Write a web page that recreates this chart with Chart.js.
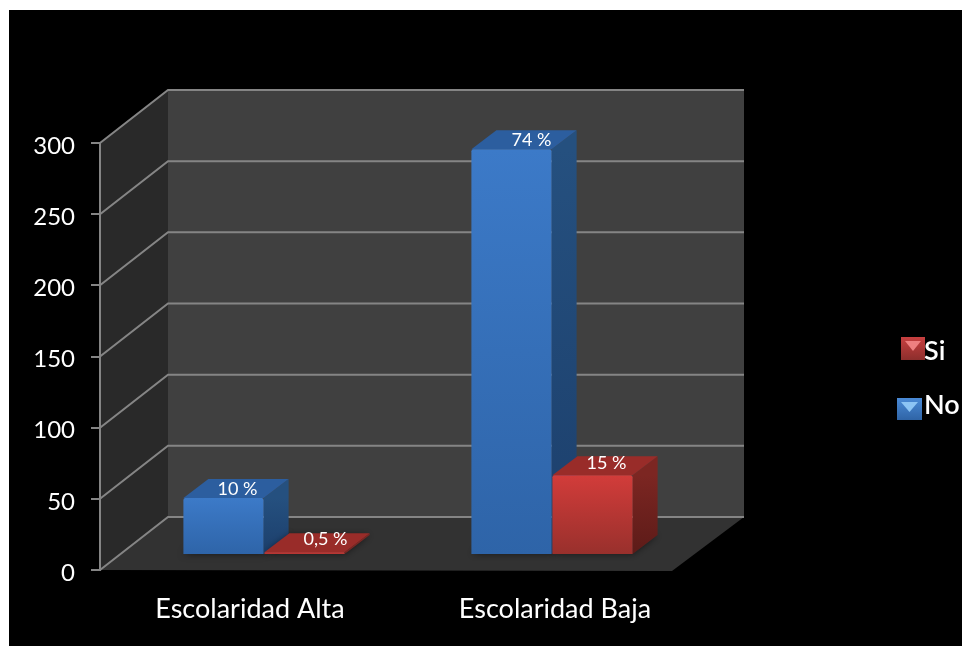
<!DOCTYPE html>
<html>
<head>
<meta charset="utf-8">
<title>Escolaridad</title>
<script src="https://cdn.jsdelivr.net/npm/chart.js@4/dist/chart.umd.min.js"></script>
<style>
  html, body { margin: 0; background: #fff; }
  canvas { display: block; }
</style>
</head>
<body>
<canvas id="escolaridadChart" width="962" height="646"></canvas>
<script>
const categories = ['Escolaridad Alta', 'Escolaridad Baja'];
const noValues = [40, 285];
const siValues = [2, 56];
const noLabels = ['10 %', '74 %'];
const siLabels = ['0,5 %', '15 %'];

// 3D look of the original: wall depth and how far the bars sit behind the axis plane
const WALL_DX = 68, WALL_DY = -53;
const BAR_DX = 20, BAR_DY = -15;
const SIDE_DX = 25, SIDE_DY = -19;
const FONT = 'Lato';

function faceGradient(ctx, top, bottom, c1, c2) {
    const g = ctx.createLinearGradient(0, top, 0, bottom);
    g.addColorStop(0, c1);
    g.addColorStop(1, c2);
    return g;
}

function poly(ctx, pts, fill) {
    ctx.beginPath();
    pts.forEach((p, i) => i ? ctx.lineTo(p[0], p[1]) : ctx.moveTo(p[0], p[1]));
    ctx.closePath();
    ctx.fillStyle = fill;
    ctx.fill();
}

function frontColor(c1, c2) {
    return (c) => {
        const y = c.chart.scales.y;
        if (!y || c.raw === undefined) return c1;
        const top = y.getPixelForValue(c.raw), bottom = y.getPixelForValue(0);
        // scales have no size yet on the very first option pass
        if (!Number.isFinite(top) || !Number.isFinite(bottom)) return c1;
        return faceGradient(c.chart.ctx, top, bottom, c1, c2);
    };
}

const box3d = {
    id: 'box3d',
    beforeDraw(chart) {
        const ctx = chart.ctx;
        const { left, right, top, bottom } = chart.chartArea;
        ctx.save();
        ctx.fillStyle = '#fff';
        ctx.fillRect(0, 0, chart.width, chart.height);
        ctx.fillStyle = '#000';
        ctx.fillRect(9, 10, chart.width - 9, chart.height - 10);

        const bl = left + WALL_DX, br = right + WALL_DX;
        const bt = top + WALL_DY, bb = bottom + WALL_DY;
        poly(ctx, [[left, top], [bl, bt], [bl, bb], [left, bottom]], '#292929');
        poly(ctx, [[bl, bt], [br, bt], [br, bb], [bl, bb]], '#404040');
        poly(ctx, [[left, bottom], [bl, bb], [br, bb], [right - 4, bottom + 1]], '#323232');

        ctx.strokeStyle = '#858585';
        ctx.lineWidth = 2;
        chart.scales.y.ticks.forEach(t => {
            const y = chart.scales.y.getPixelForValue(t.value);
            ctx.beginPath();
            ctx.moveTo(left, y);
            ctx.lineTo(bl, y + WALL_DY);
            ctx.lineTo(br, y + WALL_DY);
            ctx.stroke();
        });
        ctx.restore();

        // the category labels in the original do not line up with their bars
        const xLabelShift = [6, 23];
        chart.scales.x.getLabelItems().forEach((it, i) => {
            it.options.translation[0] = chart.scales.x.getPixelForTick(i) + xLabelShift[i];
        });
    },
    beforeDatasetsDraw(chart) {
        const ctx = chart.ctx;
        ctx.save();
        ctx.translate(BAR_DX, BAR_DY);
        const colors = [
            { top: '#2c5e9f', side1: '#25507f', side2: '#1c3f6c' },
            { top: '#992c29', side1: '#7c2622', side2: '#5c1b18' }
        ];
        chart.data.datasets.forEach((ds, d) => {
            const c = colors[d];
            chart.getDatasetMeta(d).data.forEach(bar => {
                const { x, y, base, width } = bar.getProps(['x', 'y', 'base', 'width'], true);
                const l = x - width / 2, r = x + width / 2;
                // soft shadow on the floor
                ctx.save();
                ctx.shadowColor = 'rgba(0,0,0,0.55)';
                ctx.shadowBlur = 7;
                poly(ctx, [[l, base], [r, base], [r + SIDE_DX, base + SIDE_DY], [l + SIDE_DX, base + SIDE_DY]], '#2a2a2a');
                ctx.restore();
                poly(ctx, [[r, y], [r + SIDE_DX, y + SIDE_DY], [r + SIDE_DX, base + SIDE_DY], [r, base]],
                    faceGradient(ctx, y, base, c.side1, c.side2));
                poly(ctx, [[l, y], [l + SIDE_DX, y + SIDE_DY], [r + SIDE_DX, y + SIDE_DY], [r, y]], c.top);
            });
        });
    },
    afterDatasetsDraw(chart) {
        const ctx = chart.ctx;
        const labelShift = [[14, 21], [20, 14]];
        const labelLift = [[1, -3], [0, -3]];
        ctx.font = '18px ' + FONT;
        ctx.fillStyle = '#fff';
        ctx.textAlign = 'center';
        ctx.textBaseline = 'middle';
        chart.data.datasets.forEach((ds, d) => {
            chart.getDatasetMeta(d).data.forEach((bar, i) => {
                const { x, y } = bar.getProps(['x', 'y'], true);
                ctx.fillText(ds.valueLabels[i], x + labelShift[i][d], y + SIDE_DY / 2 + labelLift[i][d]);
            });
        });
        ctx.restore();
    },
    afterDraw(chart) {
        const ctx = chart.ctx;
        const rows = [
            { ds: 1, x: 901, y: 337, w: 24, h: 23, fill1: '#c84040', fill2: '#8c2e2c', tri: '#ee8080', tx: 924, ty: 351 },
            { ds: 0, x: 897, y: 398, w: 25, h: 22, fill1: '#4a8ad6', fill2: '#2f64a6', tri: '#8cc4f4', tx: 924, ty: 405 }
        ];
        ctx.save();
        ctx.font = '600 27px ' + FONT;
        ctx.textBaseline = 'middle';
        ctx.textAlign = 'left';
        rows.forEach(r => {
            ctx.fillStyle = faceGradient(ctx, r.y, r.y + r.h, r.fill1, r.fill2);
            ctx.fillRect(r.x, r.y, r.w, r.h);
            poly(ctx, [[r.x + 4, r.y + 4], [r.x + r.w - 4, r.y + 4], [r.x + r.w / 2, r.y + 14]], r.tri);
            ctx.fillStyle = '#fff';
            ctx.fillText(chart.data.datasets[r.ds].label, r.tx, r.ty);
        });
        ctx.restore();
    }
};

new Chart(document.getElementById('escolaridadChart'), {
    type: 'bar',
    data: {
        labels: categories,
        datasets: [
            {
                label: 'No',
                data: noValues,
                valueLabels: noLabels,
                backgroundColor: frontColor('#3c7ac8', '#2e64a8')
            },
            {
                label: 'Si',
                data: siValues,
                valueLabels: siLabels,
                backgroundColor: frontColor('#d23c3a', '#98302c')
            }
        ]
    },
    options: {
        responsive: false,
        animation: false,
        events: [],
        layout: { padding: { left: 0, top: 143, right: 286, bottom: 0 } },
        datasets: { bar: { categoryPercentage: 0.5625, barPercentage: 0.99, borderRadius: 2 } },
        plugins: { legend: { display: false }, tooltip: { enabled: false } },
        scales: {
            x: {
                grid: { display: false },
                border: { display: false },
                ticks: { color: '#fff', font: { family: FONT, size: 27 }, padding: 15, maxRotation: 0 },
                afterFit: s => { s.height = 76; }
            },
            y: {
                min: 0,
                max: 300,
                grid: { drawOnChartArea: false, color: '#858585', lineWidth: 2, tickLength: 9 },
                border: { display: true, color: '#858585', width: 2 },
                ticks: { stepSize: 50, color: '#fff', font: { family: FONT, size: 24 }, padding: 16, labelOffset: 3 },
                afterFit: s => { s.width = 100; }
            }
        }
    },
    plugins: [box3d]
});
</script>
</body>
</html>
